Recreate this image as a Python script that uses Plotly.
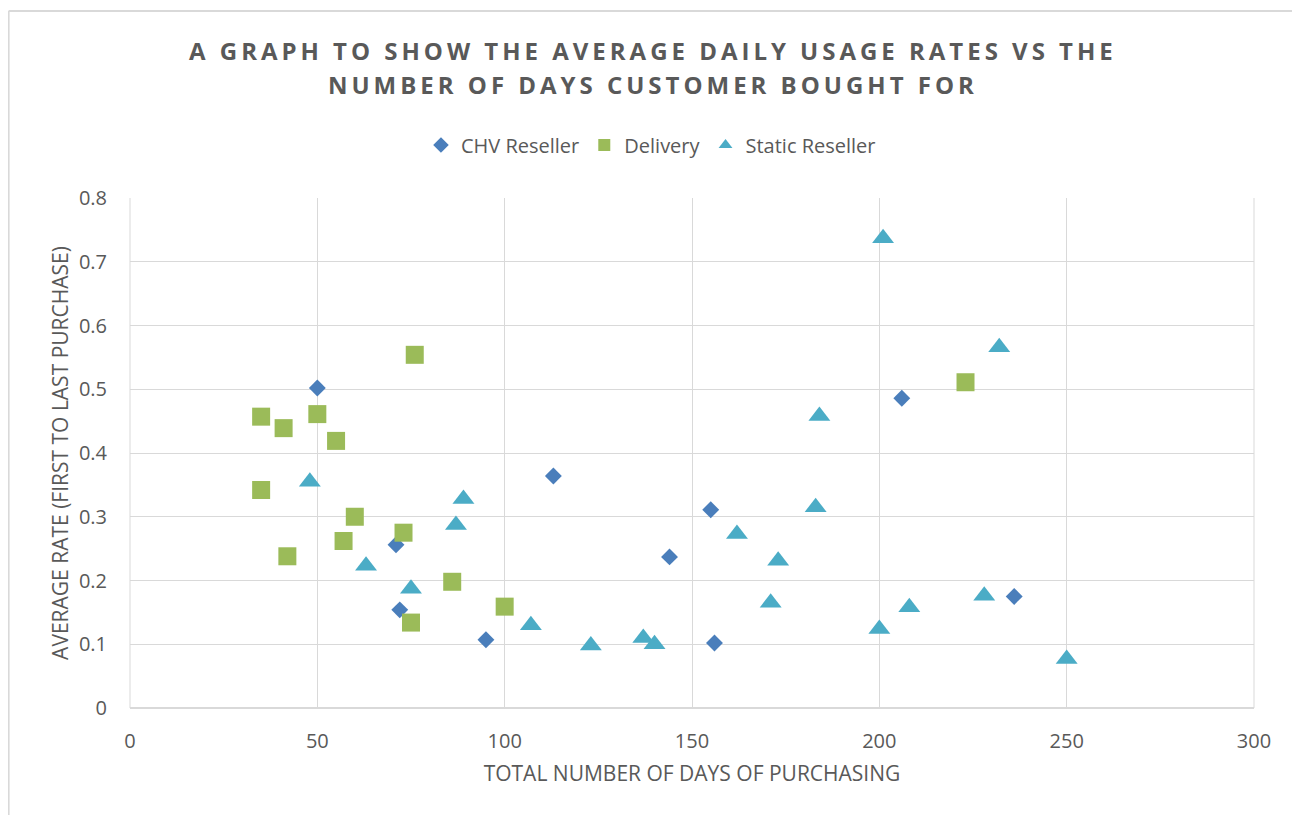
import plotly.graph_objects as go

chv_x = [50, 71, 72, 95, 113, 144, 155, 156, 206, 236]
chv_y = [0.502, 0.256, 0.154, 0.107, 0.364, 0.237, 0.311, 0.102, 0.486, 0.175]

del_x = [35, 35, 41, 42, 50, 55, 60, 57, 73, 75, 76, 86, 100, 223]
del_y = [0.457, 0.342, 0.439, 0.238, 0.461, 0.419, 0.300, 0.262, 0.275, 0.134, 0.554, 0.198, 0.159, 0.511]

sta_x = [48, 63, 75, 87, 89, 107, 123, 137, 140, 162, 171, 173, 183, 184, 200, 201, 208, 228, 232, 250]
sta_y = [0.355, 0.223, 0.187, 0.287, 0.328, 0.130, 0.098, 0.110, 0.100, 0.273, 0.165, 0.231, 0.315, 0.458, 0.124, 0.737, 0.158, 0.176, 0.566, 0.077]

x_ticks = [0, 50, 100, 150, 200, 250, 300]
y_ticks = [0, 0.1, 0.2, 0.3, 0.4, 0.5, 0.6, 0.7, 0.8]

title_lines = ["A GRAPH TO SHOW THE AVERAGE DAILY USAGE RATES VS THE",
               "NUMBER OF DAYS CUSTOMER BOUGHT FOR"]

def spaced(s):
    return "\u2009".join(list(s))

FONT = "Open Sans"
GREY = "#595959"

fig = go.Figure()
fig.add_trace(go.Scatter(x=chv_x, y=chv_y, mode="markers", name="CHV Reseller",
                         marker=dict(symbol="diamond", size=13, color="#4A7EBB")))
fig.add_trace(go.Scatter(x=del_x, y=del_y, mode="markers", name="Delivery",
                         marker=dict(symbol="square", size=18, color="#9BBB59")))
fig.add_trace(go.Scatter(x=sta_x, y=sta_y, mode="markers", name="Static Reseller",
                         marker=dict(symbol="triangle-up", size=19, color="#4BACC6")))

title_annots = [
    dict(text=spaced(title_lines[0]), xref="paper", yref="paper", x=0.4635, y=1.290,
         xanchor="center", yanchor="middle", showarrow=False,
         font=dict(family=FONT, size=24, color=GREY, weight="bold")),
    dict(text=spaced(title_lines[1]), xref="paper", yref="paper", x=0.4635, y=1.2216,
         xanchor="center", yanchor="middle", showarrow=False,
         font=dict(family=FONT, size=24, color=GREY, weight="bold")),
]

fig.update_layout(
    width=1292, height=807,
    margin=dict(l=122, r=46, t=190, b=107),
    paper_bgcolor="white", plot_bgcolor="white",
    font=dict(family=FONT, color=GREY),
    annotations=title_annots,
    legend=dict(orientation="h", x=0.4635, xanchor="center", y=1.104, yanchor="middle",
                font=dict(family=FONT, size=20, color=GREY), itemsizing="constant",
                traceorder="normal"),
    xaxis=dict(range=[0, 300], tickvals=x_ticks, ticktext=[str(v) for v in x_ticks],
               showgrid=True, gridcolor="#D9D9D9", gridwidth=1,
               zeroline=False, showline=False, ticks="", ticklabelstandoff=19,
               tickfont=dict(family=FONT, size=20, color=GREY),
               title=dict(text="TOTAL NUMBER OF DAYS OF PURCHASING", standoff=13,
                          font=dict(family=FONT, size=21, color=GREY))),
    yaxis=dict(range=[0, 0.8], tickvals=y_ticks, ticktext=["0"] + [f"{v:.1f}" for v in y_ticks[1:]],
               showgrid=True, gridcolor="#D9D9D9", gridwidth=1,
               zeroline=False, showline=False, ticks="", ticklabelstandoff=22,
               tickfont=dict(family=FONT, size=20, color=GREY),
               title=dict(text="AVERAGE RATE (FIRST TO LAST PURCHASE)", standoff=4,
                          font=dict(family=FONT, size=21, color=GREY))),
    shapes=[
        dict(type="line", xref="paper", yref="paper", x0=0, x1=1, y0=0, y1=0,
             line=dict(color="#D9D9D9", width=2)),
        dict(type="line", xref="paper", yref="paper", x0=0, x1=0, y0=0, y1=1,
             line=dict(color="#D9D9D9", width=1)),
        dict(type="line", xref="paper", yref="paper", x0=1, x1=1, y0=0, y1=1,
             line=dict(color="#D9D9D9", width=1)),
        dict(type="line", xref="paper", yref="paper", x0=-0.108, x1=1.05, y0=1.3667, y1=1.3667,
             line=dict(color="#D9D9D9", width=2)),
        dict(type="line", xref="paper", yref="paper", x0=-0.108, x1=-0.108, y0=-0.22, y1=1.3667,
             line=dict(color="#D9D9D9", width=2)),
    ],
)

fig.write_html("out.html")
